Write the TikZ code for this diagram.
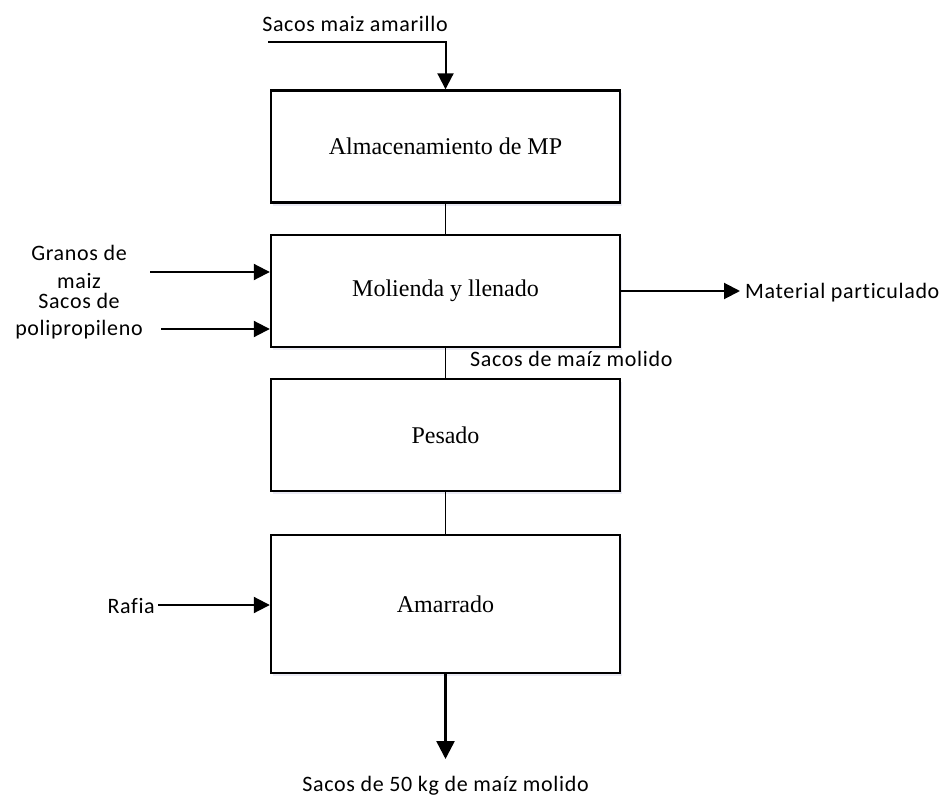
\documentclass[tikz,border=0pt]{standalone}
\usepackage{fontspec}
\setmainfont{Liberation Serif}
\newfontfamily\lblfont[LetterSpace=3,Ligatures=NoCommon]{Carlito}
\usetikzlibrary{arrows.meta,shadows}
\tikzset{
  procbox/.style={draw, line width=2.4pt, fill=white, minimum width=349pt,
    minimum height=112pt, inner sep=0pt, font=\fontsize{24}{28}\selectfont,
    drop shadow={shadow xshift=2pt, shadow yshift=-3pt, fill=blue!30!gray!25, opacity=0.5}},
  flowlabel/.style={font=\lblfont\fontsize{22}{28}\selectfont, inner sep=0pt},
  link/.style={line width=1.3pt},
  feed/.style={line width=2pt, -{Triangle[length=16pt,width=16pt]}},
  outfeed/.style={line width=2.5pt, -{Triangle[length=18pt,width=18pt]}},
}
\begin{document}
\begin{tikzpicture}[x=1pt,y=-1pt]
\useasboundingbox (0,0) rectangle (951,797);

% process steps
\node[procbox] (alm) at (445.5,146.5) {Almacenamiento de MP};
\node[procbox] (mol) at (445.5,291) {Molienda y llenado};
\node[procbox] (pes) at (445.5,435) {Pesado};
\node[procbox, minimum height=138pt] (ama) at (445.5,604) {Amarrado};

% links between steps
\draw[link] (alm) -- (mol);
\draw[link] (mol) -- (pes);
\draw[link] (pes) -- (ama);
\node[flowlabel, anchor=base west] (lblmol) at (470,366) {Sacos de maíz molido};

% raw material input
\node[flowlabel, anchor=base] (lblsacos) at (355,32) {Sacos maiz amarillo};
\coordinate (in0) at (268,42);
\draw[feed] (in0) -| (alm.north);

% inputs to milling (base anchor sits on the last line)
\node[flowlabel, align=center, anchor=base] (lblgran) at (79,288) {Granos de\\maiz};
\coordinate (g0) at (150,272);
\draw[feed] (g0) -- (g0 -| mol.west);
\node[flowlabel, align=center, anchor=base] (lblpoli) at (79,335) {Sacos de\\[-1pt]polipropileno};
\coordinate (p0) at (161,329);
\draw[feed] (p0) -- (p0 -| mol.west);

% emission from milling
\coordinate (m1) at (740,291);
\draw[feed] (mol.east) -- (m1);
\node[flowlabel, anchor=base west] (lblmat) at (745,298) {Material particulado};

% tying input
\node[flowlabel, anchor=base east] (lblraf) at (155,613) {Rafia};
\coordinate (r0) at (158,605);
\draw[feed] (r0) -- (r0 -| ama.west);

% final product
\coordinate (out) at (445.5,759);
\draw[outfeed] (ama.south) -- (out);
\node[flowlabel, anchor=base] (lblout) at (445.5,791) {Sacos de 50 kg de maíz molido};
\end{tikzpicture}
\end{document}
